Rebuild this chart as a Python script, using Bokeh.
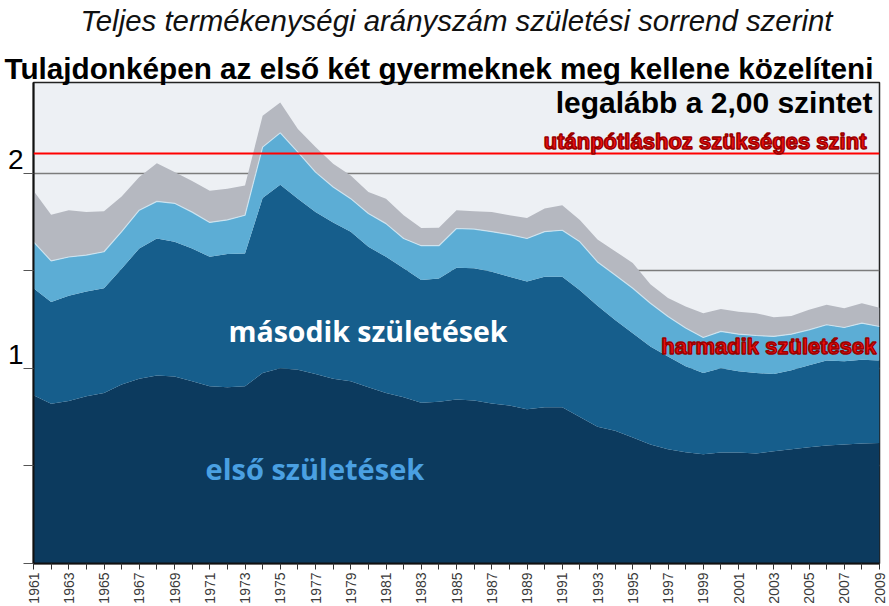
from math import pi
from bokeh.plotting import figure
from bokeh.models import (ColumnDataSource, Range1d, FixedTicker, Span, Label,
                          Title, LinearAxis)
from bokeh.transform import stack
from bokeh.embed import file_html
from bokeh.resources import INLINE

# ---- data: total fertility rate by birth order, Hungary 1961-2009 ----
years = list(range(1961, 2010))
first = [0.862, 0.818, 0.832, 0.857, 0.874, 0.917, 0.947, 0.963, 0.958, 0.934,
         0.908, 0.903, 0.908, 0.976, 1.000, 0.993, 0.971, 0.947, 0.934, 0.903,
         0.874, 0.852, 0.823, 0.828, 0.840, 0.835, 0.820, 0.810, 0.790, 0.800,
         0.800, 0.750, 0.700, 0.680, 0.645, 0.610, 0.585, 0.570, 0.560, 0.568,
         0.568, 0.563, 0.575, 0.585, 0.595, 0.605, 0.610, 0.615, 0.617]
second = [0.548, 0.522, 0.540, 0.536, 0.536, 0.593, 0.667, 0.702, 0.690, 0.680,
          0.663, 0.682, 0.680, 0.896, 0.940, 0.876, 0.829, 0.800, 0.766, 0.719,
          0.697, 0.660, 0.629, 0.632, 0.675, 0.677, 0.675, 0.659, 0.654, 0.669,
          0.669, 0.650, 0.620, 0.568, 0.535, 0.502, 0.476, 0.440, 0.416, 0.432,
          0.417, 0.413, 0.396, 0.405, 0.420, 0.435, 0.426, 0.429, 0.423]
third = [0.238, 0.210, 0.198, 0.187, 0.187, 0.190, 0.196, 0.190, 0.197, 0.186,
         0.176, 0.175, 0.196, 0.261, 0.266, 0.238, 0.205, 0.182, 0.169, 0.171,
         0.170, 0.153, 0.176, 0.168, 0.201, 0.201, 0.205, 0.216, 0.221, 0.231,
         0.238, 0.248, 0.225, 0.230, 0.230, 0.221, 0.204, 0.196, 0.182, 0.189,
         0.190, 0.192, 0.192, 0.185, 0.182, 0.183, 0.173, 0.187, 0.174]
fourth = [0.262, 0.237, 0.240, 0.220, 0.208, 0.180, 0.170, 0.195, 0.160, 0.160,
          0.163, 0.160, 0.153, 0.161, 0.156, 0.119, 0.128, 0.119, 0.119, 0.110,
          0.128, 0.119, 0.091, 0.092, 0.094, 0.092, 0.100, 0.099, 0.105, 0.118,
          0.128, 0.111, 0.115, 0.122, 0.130, 0.097, 0.095, 0.110, 0.124, 0.115,
          0.115, 0.114, 0.099, 0.093, 0.103, 0.102, 0.099, 0.102, 0.096]

y_ticks = [0, 0.5, 1, 1.5, 2]
y_label_values = [1, 2]
y_label_texts = ["1", "2"]
x_label_years = [y for y in years if y % 2 == 1]
x_minor_years = [y for y in years if y % 2 == 0]
replacement_level = 2.1

title_main = "Teljes termékenységi arányszám születési sorrend szerint"
title_sub = "Tulajdonképen az első két gyermeknek meg kellene közelíteni"
note_level = "legalább a 2,00 szintet"
note_repl = "utánpótláshoz szükséges szint"
lbl_first = "első születések"
lbl_second = "második születések"
lbl_third = "harmadik születések"

colors = ["#0c3a5e", "#165e8c", "#5cadd5", "#b5b8c0"]

source = ColumnDataSource(dict(year=years, first=first, second=second,
                               third=third, fourth=fourth))

p = figure(width=889, height=606, title=None,
           x_range=Range1d(1961, 2009), y_range=Range1d(0, 2.464),
           output_backend="svg", toolbar_location=None,
           min_border_left=33, min_border_right=10,
           min_border_top=80, min_border_bottom=43,
           background_fill_color="#edf0f4", border_fill_color="white")

p.varea_stack(stackers=["first", "second", "third", "fourth"], x="year",
              color=colors, source=source)
p.line(x="year", y=stack("first", "second", "third"), source=source,
       line_color="#d4ebf6", line_width=1.2, line_alpha=0.8)

# x axis
p.xaxis.ticker = FixedTicker(ticks=x_label_years, minor_ticks=x_minor_years)
p.xaxis.major_label_orientation = pi / 2
p.xaxis.major_label_text_font = "Liberation Sans"
p.xaxis.major_label_text_font_size = "14px"
p.xaxis.major_label_text_color = "#3a3a3a"
p.xaxis.major_tick_in = 0
p.xaxis.major_tick_out = 6
p.xaxis.minor_tick_in = 0
p.xaxis.minor_tick_out = 6
p.xaxis.major_tick_line_color = "#333333"
p.xaxis.minor_tick_line_color = "#333333"
p.xaxis.major_label_standoff = 3
p.xaxis.axis_line_color = "#111111"
p.xaxis.axis_line_width = 2

# y axis: unlabelled tick marks on the frame ...
p.yaxis.ticker = FixedTicker(ticks=[], minor_ticks=y_ticks)
p.yaxis.minor_tick_in = 0
p.yaxis.minor_tick_out = 10
p.yaxis.minor_tick_line_color = "#555555"
p.yaxis.major_label_standoff = 0
p.yaxis.axis_line_color = "#111111"
p.yaxis.axis_line_width = 2

# ... and the big labels sitting just above their ticks
label_lift = 0.07
lab_ticks = [v + label_lift for v in y_label_values]
ylab = LinearAxis(ticker=FixedTicker(ticks=lab_ticks),
                  major_label_overrides={t: s for t, s in zip(lab_ticks, y_label_texts)},
                  major_label_text_font="Liberation Sans",
                  major_label_text_font_size="28px",
                  major_label_text_color="#000000",
                  major_label_standoff=0,
                  major_tick_in=0, major_tick_out=0,
                  minor_tick_line_color=None, major_tick_line_color=None,
                  axis_line_color=None)
p.add_layout(ylab, "left")

p.xgrid.grid_line_color = None
p.ygrid.ticker = FixedTicker(ticks=y_ticks)
p.ygrid.grid_line_color = "#7c7c7c"
p.ygrid.grid_line_width = 1.5

p.outline_line_color = "#222222"
p.outline_line_width = 1.5

p.add_layout(Span(location=replacement_level, dimension="width",
                  line_color="#ff0000", line_width=2))

# second title line directly above the frame
p.add_layout(Title(text=title_sub, align="left", offset=-29,
                   text_font="Liberation Sans", text_font_size="29.7px",
                   text_font_style="bold", text_color="#000000",
                   standoff=-4), "above")
# main title: carried as the label of a tick-free axis above, so that its
# standoff sets the gap between the two title lines
top_axis = LinearAxis(ticker=FixedTicker(ticks=[]), major_tick_in=0,
                      major_tick_out=0, minor_tick_in=0, minor_tick_out=0,
                      major_label_standoff=0, axis_line_color=None,
                      major_tick_line_color=None, minor_tick_line_color=None,
                      axis_label=title_main, axis_label_standoff=15,
                      axis_label_text_font="Liberation Sans",
                      axis_label_text_font_size="29.4px",
                      axis_label_text_font_style="italic",
                      axis_label_text_color="#111111")
p.add_layout(top_axis, "above")

has_outline = "text_outline_color" in Label.properties()


def add_label(text, x, y, align, baseline, font, size, color, style,
              outline=None):
    kw = dict(x=x, y=y, text=text, text_align=align, text_baseline=baseline,
              text_font=font, text_font_size=size, text_color=color,
              text_font_style=style)
    if outline and has_outline:
        kw["text_outline_color"] = outline
    p.add_layout(Label(**kw))


add_label(note_level, 2008.6, 2.36, "right", "middle",
          "Liberation Sans", "30px", "#000000", "bold")
add_label(note_repl, 2008.26, 2.16, "right", "middle",
          "Liberation Sans", "22px", "#ee1111", "bold", outline="#9a0000")
add_label(lbl_second, 1972.06, 1.189, "left", "middle",
          "Open Sans", "28.5px", "#ffffff", "bold")
add_label(lbl_first, 1970.76, 0.485, "left", "middle",
          "Open Sans", "29px", "#4aa0e2", "bold")
add_label(lbl_third, 2008.83, 1.112, "right", "middle",
          "Liberation Sans", "22px", "#ee1111", "bold", outline="#9a0000")

open("out.html", "w").write(file_html(p, INLINE))
